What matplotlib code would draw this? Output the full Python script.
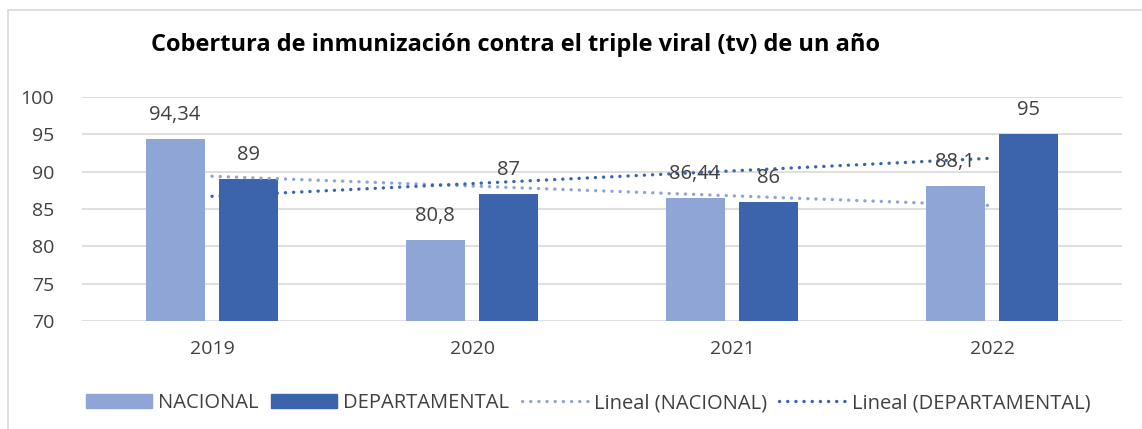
import numpy as np
import matplotlib
matplotlib.use("Agg")
import matplotlib.pyplot as plt
from matplotlib.patches import Rectangle, Patch
from matplotlib.lines import Line2D

# Data
years = ["2019", "2020", "2021", "2022"]
nacional = [94.34, 80.8, 86.44, 88.1]
departamental = [89, 87, 86, 95]
nacional_labels = ["94,34", "80,8", "86,44", "88,1"]
departamental_labels = ["89", "87", "86", "95"]

col_nac = "#8FA5D5"
col_dep = "#3B64AD"
txt = "#404040"
dots = (0, (0.05, 2.4))

plt.rcParams["font.family"] = ["Open Sans", "DejaVu Sans"]

fig = plt.figure(figsize=(11.42, 4.29), dpi=100)
ax = fig.add_axes([0.0718, 0.2517, 0.9107, 0.5223])

# chart border
fig.patches.append(Rectangle((8 / 1142, -0.1), 1.2, 1 - 10 / 429 + 0.1,
                             transform=fig.transFigure, fill=False,
                             edgecolor="#D9D9D9", lw=1.2))

x = np.arange(1, len(years) + 1)
w = 0.227
off = 0.142
ax.bar(x - off, np.array(nacional) - 70, w, bottom=70, color=col_nac, zorder=2)
ax.bar(x + off, np.array(departamental) - 70, w, bottom=70, color=col_dep, zorder=2)

# linear trend lines (like Excel "Lineal")
for vals, c in [(nacional, col_nac), (departamental, col_dep)]:
    m, b = np.polyfit(x, vals, 1)
    ax.plot(x, m * x + b, color=c, lw=2.4, linestyle=dots,
            dash_capstyle="round", zorder=3)

for xi, v, lab in zip(x - off, nacional, nacional_labels):
    ax.annotate(lab, (xi, v), xytext=(0, 10), textcoords="offset points",
                ha="center", va="bottom", fontsize=14.5, color=txt, zorder=4)
for xi, v, lab in zip(x + off, departamental, departamental_labels):
    ax.annotate(lab, (xi, v), xytext=(0, 10), textcoords="offset points",
                ha="center", va="bottom", fontsize=14.5, color=txt, zorder=4)

ax.set_xlim(0.5, 4.5)
ax.set_ylim(70, 100)
ax.set_yticks(range(70, 101, 5))
ax.set_xticks(x)
ax.set_xticklabels(years)
ax.grid(axis="y", color="#D9D9D9", lw=1.2, zorder=0)
for s in ax.spines.values():
    s.set_visible(False)
ax.tick_params(axis="both", length=0, colors=txt)
ax.tick_params(axis="y", pad=20, labelsize=14)
ax.tick_params(axis="x", pad=14, labelsize=14)

fig.text(0.451, 0.895, "Cobertura de inmunización contra el triple viral (tv) de un año",
         ha="center", va="center", fontsize=17, fontweight="bold", color="black")

handles = [
    Patch(color=col_nac, label="NACIONAL"),
    Patch(color=col_dep, label="DEPARTAMENTAL"),
    Line2D([], [], color=col_nac, lw=2.4, linestyle=dots,
           dash_capstyle="round", label="Lineal (NACIONAL)"),
    Line2D([], [], color=col_dep, lw=2.4, linestyle=dots,
           dash_capstyle="round", label="Lineal (DEPARTAMENTAL)"),
]
fig.legend(handles=handles, loc="center", bbox_to_anchor=(0.515, 0.06),
           ncol=4, frameon=False, fontsize=14.5, labelcolor=txt,
           handlelength=3.3, handleheight=0.7, handletextpad=0.3,
           columnspacing=0.6)

fig.savefig("out.png", dpi=100)
